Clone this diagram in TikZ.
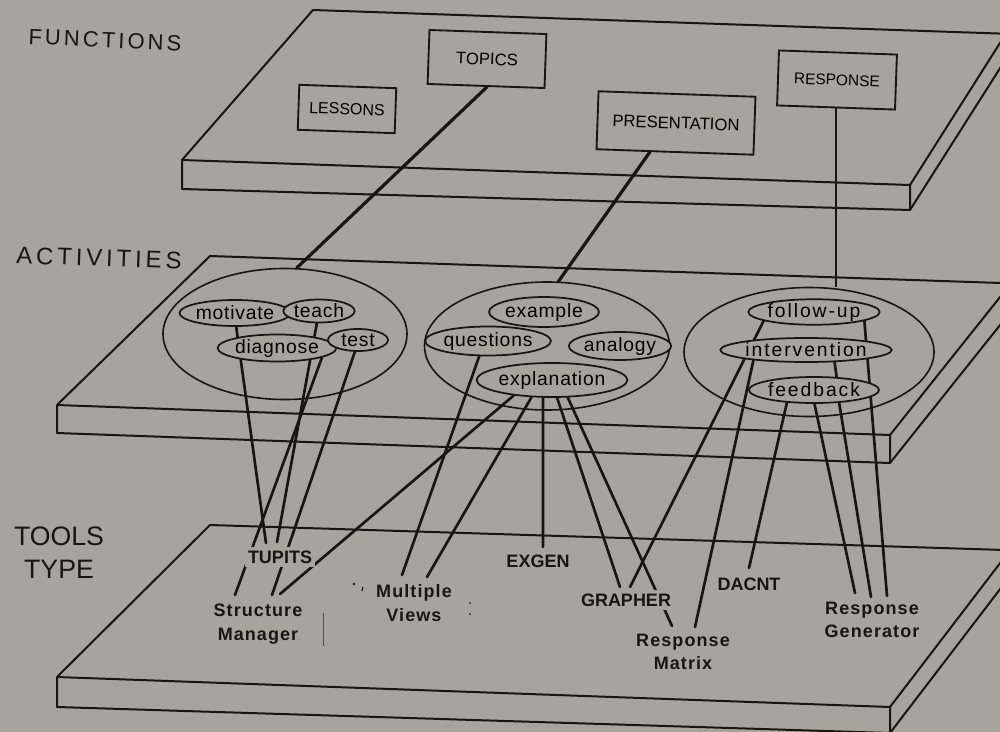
\documentclass[tikz,border=0pt]{standalone}
\usepackage{fontspec}
\setmainfont{Liberation Sans}
\newfontfamily\layerfontA[LetterSpace=14]{Liberation Sans}
\newfontfamily\layerfontB[LetterSpace=16]{Liberation Sans}
\newfontfamily\actfont[LetterSpace=4]{Liberation Sans}
\newfontfamily\actwidefont[LetterSpace=10]{Liberation Sans}
\newfontfamily\toolfont[LetterSpace=6]{Liberation Sans}
\usetikzlibrary{shapes.geometric}

\definecolor{paper}{RGB}{166,164,156}
\definecolor{ink}{RGB}{22,22,22}
\newcommand\pxu{0.75pt}

\pgfdeclarelayer{slabs}
\pgfdeclarelayer{wires}
\pgfsetlayers{slabs,wires,main}

\begin{document}
\begin{tikzpicture}[x=0.75pt, y=-0.75pt,
  slabline/.style={draw=ink, line width=1.5pt, line join=round},
  fbox/.style={draw=ink, line width=1.4pt, fill=paper, inner sep=0pt, rotate=-2},
  group/.style={draw=ink, ellipse, line width=1.2pt, inner sep=0pt},
  act/.style={draw=ink, ellipse, line width=1.3pt, fill=paper, inner sep=0pt,
              font={\actfont\fontsize{14.5}{16}\selectfont}},
  actwide/.style={act, font={\actwidefont\fontsize{14.5}{16}\selectfont}},
  toolcaps/.style={fill=paper, inner sep=2.5pt, text=ink,
              font={\bfseries\fontsize{13.5}{17}\selectfont}},
  toolword/.style={fill=paper, inner sep=2pt, text=ink, align=center,
              font={\toolfont\bfseries\fontsize{13.5}{17.5}\selectfont}},
  wire/.style={draw=ink, line width=2pt, line cap=round},
  fwire/.style={draw=ink, line width=2.4pt, line cap=round},
]
\useasboundingbox (0,0) rectangle (1000,732);

% ---------- paper and the three slabs ----------
\begin{pgfonlayer}{slabs}
\fill[paper] (0,0) rectangle (1000,732);
\clip (0,0) rectangle (1000,732);
% functions slab
\draw[slabline] (1100,37) -- (313,10) -- (182,160) -- (910,185) -- (1020,11.4);
\draw[slabline] (182,160) -- (182,189) -- (910,210) -- (910,185);
\draw[slabline] (910,210) -- (1030,21);
% activities slab
\draw[slabline] (1100,286.4) -- (210,256) -- (57,405) -- (890,435) -- (1020,272);
\draw[slabline] (57,405) -- (57,433) -- (890,463) -- (890,435);
\draw[slabline] (890,463) -- (1020,300);
% tools slab
\draw[slabline] (1100,553) -- (210,525) -- (57,677) -- (890,707) -- (1030,524);
\draw[slabline] (57,677) -- (57,707) -- (890,733) -- (890,707);
\draw[slabline] (890,733) -- (1030,550);
\end{pgfonlayer}

% ---------- level names ----------
\node[text=ink, rotate=-2.5, font={\layerfontA\fontsize{16.5}{18}\selectfont}]
  (functions) at (105,40) {FUNCTIONS};
\node[text=ink, rotate=-2, font={\layerfontB\fontsize{18}{20}\selectfont}]
  (activities) at (99,258) {ACTIVITIES};
\node[text=ink, align=center, font={\fontsize{20}{24.75}\selectfont}]
  (toolstype) at (59,553) {TOOLS\\TYPE};

% ---------- functions ----------
\node[fbox, minimum width=97*\pxu, minimum height=45*\pxu,
      font={\fontsize{12}{14}\selectfont}] (lessons) at (347,109) {LESSONS};
\node[fbox, minimum width=117*\pxu, minimum height=54*\pxu,
      font={\fontsize{12.5}{14}\selectfont}] (topics) at (487,59) {TOPICS};
\node[fbox, minimum width=157*\pxu, minimum height=58*\pxu,
      font={\fontsize{12.5}{14}\selectfont}] (presentation) at (676,123) {PRESENTATION};
\node[fbox, minimum width=118*\pxu, minimum height=55*\pxu,
      font={\fontsize{11.6}{14}\selectfont}] (response) at (837,80) {RESPONSE};

% ---------- activity groups ----------
\node[group, minimum width=244*\pxu, minimum height=131*\pxu] (leftgrp) at (285,334) {};
\node[group, minimum width=245*\pxu, minimum height=128*\pxu] (midgrp) at (547,346) {};
\node[group, minimum width=250*\pxu, minimum height=129*\pxu] (rightgrp) at (809,352) {};

\node[act, minimum width=83*\pxu, minimum height=26*\pxu] (motivate) at (235,313) {motivate};
\node[act, minimum width=57*\pxu, minimum height=23*\pxu] (teach) at (319,311) {teach};
\node[act, minimum width=80*\pxu, minimum height=27*\pxu] (diagnose) at (277,348) {diagnose};
\node[act, minimum width=60*\pxu, minimum height=22*\pxu] (test) at (358,340) {test};

\node[act, minimum width=90*\pxu, minimum height=30*\pxu] (example) at (544,312) {example};
\node[act, minimum width=97*\pxu, minimum height=29*\pxu] (questions) at (488,341) {questions};
\node[act, minimum width=77*\pxu, minimum height=28*\pxu] (analogy) at (620,346) {analogy};
\node[act, minimum width=110*\pxu, minimum height=34*\pxu] (explanation) at (552,380) {explanation};

\node[actwide, minimum width=107*\pxu, minimum height=24*\pxu] (followup) at (814,312) {follow-up};
\node[actwide, minimum width=127*\pxu, minimum height=24*\pxu] (intervention) at (806,350) {intervention};
\node[actwide, minimum width=96*\pxu, minimum height=26*\pxu] (feedback) at (814,390) {feedback};

% ---------- tools ----------
\node[toolcaps] (tupits) at (280,557) {TUPITS};
\node[toolword] (structure) at (258,624) {Structure\\Manager};
\node[toolword] (multiple) at (414,603) {Multiple\\Views};
\node[toolcaps] (exgen) at (538,561) {EXGEN};
\node[toolcaps] (grapher) at (626,600) {GRAPHER};
\node[toolcaps] (dacnt) at (749,584) {DACNT};
\node[toolword, align=center] (rmatrix) at (683,652) {Response\\Matrix};
\node[toolword, align=center] (rgen) at (872,620) {Response\\Generator};

% loose ends of the connectors at the tools
\coordinate (tu1) at (266,543);
\coordinate (tu2) at (277,542);
\coordinate (sm1) at (235,595);
\coordinate (sm2) at (272,595);
\coordinate (sm3) at (280,594);
\coordinate (mv1) at (402,575);
\coordinate (mv2) at (427,577);
\coordinate (ex1) at (543,547);
\coordinate (gr1) at (620,587);
\coordinate (gr2) at (630,587);
\coordinate (rm1) at (672,626);
\coordinate (rm2) at (695,627);
\coordinate (dc1) at (749,568);
\coordinate (rg1) at (855,593);
\coordinate (rg2) at (871,597);
\coordinate (rg3) at (887,596);

% ---------- connectors ----------
\begin{pgfonlayer}{wires}
% functions to activity groups
\draw[fwire] (topics.-88) -- (leftgrp.80);
\draw[fwire] (presentation.-130) -- (midgrp.80);
\draw[draw=ink, line width=1.6pt] (response.south) -- (response.south |- rightgrp.north);
% activities to tools
\draw[wire] (motivate.-85) -- (tu1);
\draw[wire] (teach.-100) -- (tu2);
\draw[wire] (diagnose.-12) -- (sm1);
\draw[wire] (test.-105) -- (sm2);
\draw[wire] (questions.-120) -- (mv1);
\draw[wire] (explanation.-158) -- (sm3);
\draw[wire] (explanation.-140) -- (mv2);
\draw[wire] (explanation.-117) -- (ex1);
\draw[wire] (explanation.-74) -- (gr1);
\draw[wire] (explanation.-48) -- (rm1);
\draw[wire] (followup.-170) -- (gr2);
\draw[wire] (followup.-10) -- (rg3);
\draw[wire] (intervention.-169) -- (rm2);
\draw[wire] (intervention.-23) -- (feedback.30);
\draw[wire] (feedback.-155) -- (dc1);
\draw[wire] (feedback.-88) -- (rg1);
\draw[wire] (feedback.-27) -- (rg2);
\end{pgfonlayer}

% small specks on the tools slab
\fill[ink] (354,584) circle (1.4);
\draw[ink, line width=0.9pt] (363,587) -- (362,591);
\draw[ink!60!paper, line width=0.7pt] (323,613) -- (323,646);
\fill[ink!80!paper] (470,603) circle (1.1);
\fill[ink!80!paper] (470,614) circle (1.1);
\end{tikzpicture}
\end{document}
